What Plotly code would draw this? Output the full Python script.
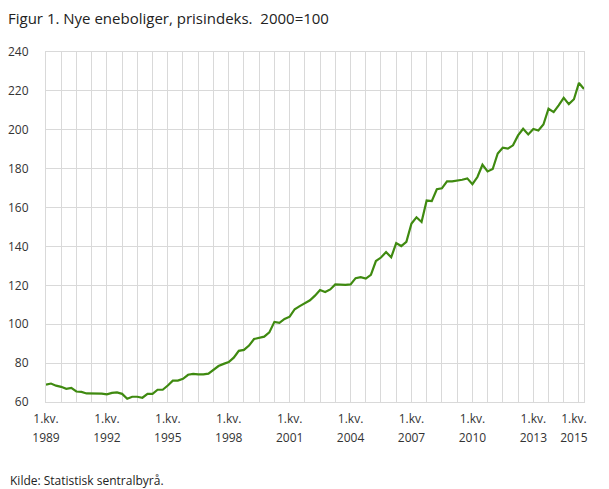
import plotly.graph_objects as go
import pandas as pd

# Quarterly price index, new detached houses (2000=100), 1.kv. 1989 - 3.kv. 2015
start_quarter = "1989-01-01"
index_values = [
    68.9, 69.5, 68.4, 67.8, 66.8, 67.3, 65.4, 65.2, 64.4, 64.4,
    64.3, 64.3, 63.9, 64.7, 64.9, 64.2, 61.7, 62.7, 62.7, 62.2,
    64.2, 64.2, 66.3, 66.3, 68.5, 71.0, 71.0, 71.9, 74.0, 74.5,
    74.2, 74.2, 74.6, 76.6, 78.5, 79.6, 80.5, 82.8, 86.3, 86.8,
    89.0, 92.4, 93.0, 93.6, 95.8, 101.2, 100.7, 102.7, 103.9, 107.7,
    109.3, 110.6, 112.3, 114.7, 117.6, 116.6, 117.9, 120.5, 120.2, 120.2,
    120.5, 123.7, 124.2, 123.5, 125.4, 132.5, 134.3, 137.1, 134.4, 141.7,
    140.2, 142.4, 151.8, 155.0, 152.6, 163.6, 163.3, 169.4, 169.9, 173.5,
    173.5, 173.8, 174.3, 175.0, 172.0, 175.7, 182.0, 178.6, 179.8, 187.8,
    190.8, 190.3, 192.0, 197.1, 200.5, 197.6, 200.4, 199.6, 202.7, 210.8,
    209.1, 212.6, 216.4, 213.2, 215.7, 224.1, 221.0,
]
label_years = [1989, 1992, 1995, 1998, 2001, 2004, 2007, 2010, 2013, 2015]
y_ticks = [60, 80, 100, 120, 140, 160, 180, 200, 220, 240]

quarters = pd.date_range(start_quarter, periods=len(index_values), freq="QS")
tick_dates = [pd.Timestamp(f"{y}-01-01") for y in label_years]
span = "<span style='font-size:12px'>{}</span>"
tick_text = [span.format("1.kv.") + "<br>" + span.format(y) for y in label_years]

FONT = "Open Sans"
GRID = "#d9d9d9"

fig = go.Figure()
fig.add_trace(go.Scatter(
    x=quarters, y=index_values, mode="lines",
    line=dict(color="#3f8a10", width=2.2),
    hoverinfo="skip", showlegend=False,
))

# page body has an 8px margin, so the figure is sized to fit the window
fig.update_layout(
    width=601, height=481,
    margin=dict(l=38, r=25, t=44, b=87),
    paper_bgcolor="white", plot_bgcolor="white",
    font=dict(family=FONT, size=12, color="#333333"),
    title=dict(
        text="Figur 1. Nye eneboliger, prisindeks.  2000=100",
        x=0.0, xanchor="left", y=0.977, yanchor="middle",
        font=dict(family=FONT, size=15, color="#222222"),
    ),
    annotations=[dict(
        text="Kilde: Statistisk sentralbyrå.",
        xref="paper", yref="paper", x=-0.0706, y=-0.2257,
        xanchor="left", yanchor="middle", showarrow=False,
        font=dict(family=FONT, size=12, color="#222222"),
    )],
)

fig.update_xaxes(
    type="date", automargin=False,
    range=[quarters[0], quarters[-1]],
    tickmode="array", tickvals=tick_dates, ticktext=tick_text,
    showgrid=False, ticks="", ticklabelstandoff=2,
    tickfont=dict(family=FONT, size=14.6, color="#333333"),
    minor=dict(dtick="M9", tick0=start_quarter, showgrid=True,
               gridcolor=GRID, gridwidth=1, ticks=""),
    showline=True, linecolor=GRID, linewidth=1, mirror=True,
    zeroline=False,
)
fig.update_yaxes(
    range=[60, 240], tickvals=y_ticks, automargin=False,
    showgrid=True, gridcolor=GRID, gridwidth=1,
    showline=True, linecolor=GRID, linewidth=1, mirror=True,
    zeroline=False, ticks="", ticklabelstandoff=14,
    tickfont=dict(family=FONT, size=12, color="#333333"),
)

fig.write_html("out.html")
